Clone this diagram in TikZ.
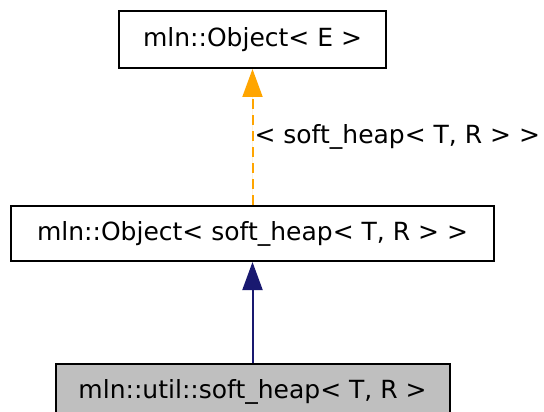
\documentclass[tikz,border=0pt]{standalone}
\usepackage{fontspec}
\setmainfont{DejaVu Sans}
\usepackage{tikz}
\usetikzlibrary{arrows.meta,positioning}
\definecolor{edgeorange}{RGB}{255,165,0}
\definecolor{edgenavy}{RGB}{25,25,112}
\definecolor{nodegray}{RGB}{191,191,191}

\begin{document}
\begin{tikzpicture}[
    x=1pt, y=1pt,
    >={Triangle[length=28pt,width=20pt]},
    cls/.style={
      rectangle, draw=black, line width=2pt, minimum height=55pt,
      inner sep=0pt, font=\fontsize{25}{29}\selectfont
    },
    inherit/.style={->, line width=2pt, draw=edgenavy, fill=edgenavy},
    templ/.style={->, line width=2pt, draw=edgeorange, fill=edgeorange,
      dash pattern=on 10pt off 6pt}
  ]
  \useasboundingbox (0,0) rectangle (544,-412);

  \node[cls, minimum width=267pt, minimum height=57pt] (objE) at (252.5,-39.5)
    {mln::Object< E >};
  \node[cls, minimum width=483pt, below=136pt of objE] (objheap)
    {mln::Object< soft\_heap< T, R > >};
  \node[cls, minimum width=394pt, fill=nodegray, below=101pt of objheap] (heap)
    {mln::util::soft\_heap< T, R >};

  \draw[templ] (objheap) -- (objE)
    node[midway, right=0pt, inner sep=1pt, font=\fontsize{25}{29}\selectfont]
    {< soft\_heap< T, R > >};
  \draw[inherit] (heap) -- (objheap);
\end{tikzpicture}
\end{document}
